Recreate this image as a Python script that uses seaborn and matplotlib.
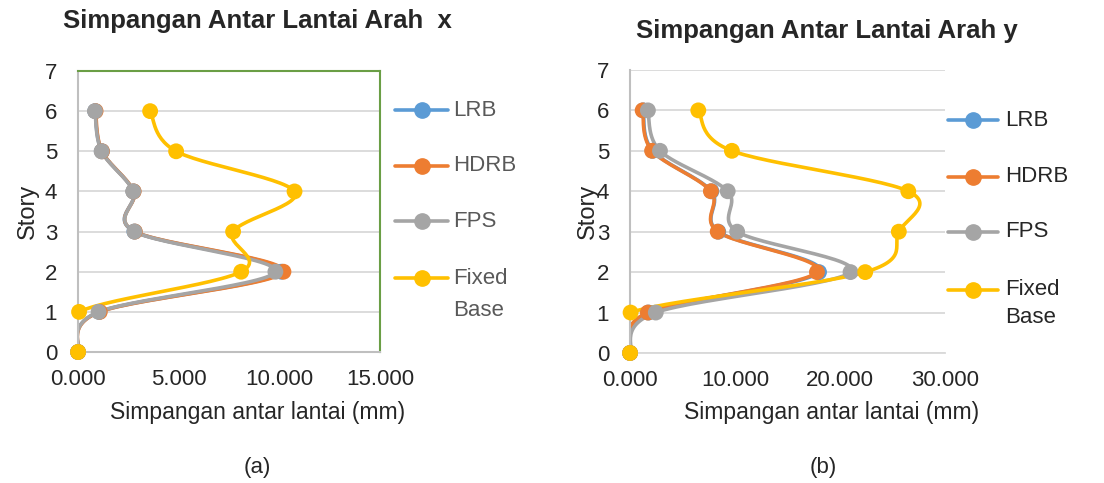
import numpy as np
import pandas as pd
import seaborn as sns
import matplotlib.pyplot as plt

sns.set_style('white')
plt.rcParams['font.family'] = ['Liberation Sans', 'DejaVu Sans']

story = [0, 1, 2, 3, 4, 5, 6]
series = ['LRB', 'HDRB', 'FPS', 'Fixed Base']
leg_labels = ['LRB', 'HDRB', 'FPS', 'Fixed', 'Base']
colors = ['#5B9BD5', '#ED7D31', '#A5A5A5', '#FFC000']

# arah x
x_lrb = [0.0, 1.05, 10.10, 2.80, 2.75, 1.18, 0.85]
x_hdrb = [0.0, 1.08, 10.20, 2.82, 2.76, 1.19, 0.87]
x_fps = [0.0, 1.02, 9.80, 2.80, 2.74, 1.17, 0.84]
x_fixed = [0.0, 0.05, 8.10, 7.70, 10.75, 4.87, 3.58]

# arah y
y_lrb = [0.0, 1.75, 18.00, 8.40, 7.75, 2.15, 1.25]
y_hdrb = [0.0, 1.70, 17.80, 8.35, 7.70, 2.10, 1.20]
y_fps = [0.0, 2.45, 21.00, 10.20, 9.30, 2.85, 1.70]
y_fixed = [0.0, 0.05, 22.40, 25.60, 26.50, 9.70, 6.50]


def smooth(xs, ys, n=30):
    # excel-like smoothed line (catmull-rom, bezier segments)
    p = np.column_stack([xs, ys]).astype(float)
    p = np.vstack([p[0], p, p[-1]])
    out = []
    for i in range(1, len(p) - 2):
        p0, p1, p2, p3 = p[i - 1], p[i], p[i + 1], p[i + 2]
        c1 = p1 + (p2 - p0) / 6
        c2 = p2 - (p3 - p1) / 6
        t = np.linspace(0, 1, n)[:, None]
        seg = ((1 - t) ** 3 * p1 + 3 * (1 - t) ** 2 * t * c1
               + 3 * (1 - t) * t ** 2 * c2 + t ** 3 * p2)
        out.append(seg)
    out = np.vstack(out)
    return out[:, 0], out[:, 1]


def legend(ax, xs, ys, tcolor):
    # excel style legend, handle aligned to first line of text
    x0, x1, xm, xt = xs
    for c, y in zip(colors, ys[:4]):
        ax.plot([x0, x1], [y, y], transform=ax.transAxes, color=c, lw=2.6,
                clip_on=False)
        ax.plot([xm], [y], transform=ax.transAxes, color=c, marker='o', ms=11,
                clip_on=False)
    for lab, y in zip(leg_labels, ys):
        ax.text(xt, y, lab, transform=ax.transAxes, fontsize=16, color=tcolor,
                ha='left', va='center')


def draw(ax, data, xmax, xstep):
    for name, vals, c in zip(series, data, colors):
        sx, sy = smooth(vals, story)
        df_line = pd.DataFrame({'x': sx, 'y': sy})
        sns.lineplot(data=df_line, x='x', y='y', sort=False, ax=ax,
                     color=c, lw=2.6, estimator=None)
        df_pts = pd.DataFrame({'x': vals, 'y': story})
        sns.scatterplot(data=df_pts, x='x', y='y', ax=ax, color=c,
                        s=130, edgecolor='none', zorder=5, clip_on=False)
    ax.set_xlim(0, xmax)
    ax.set_ylim(0, 7)
    ticks = np.arange(0, xmax + 0.1, xstep)
    ax.set_xticks(ticks)
    ax.set_xticklabels(['{:.3f}'.format(v) for v in ticks])
    ax.set_yticks(range(8))
    ax.yaxis.grid(True, color='#D9D9D9', lw=1.3)
    ax.xaxis.grid(False)
    ax.tick_params(axis='both', labelsize=16, length=0)
    ax.tick_params(axis='x', pad=12)
    ax.tick_params(axis='y', pad=15)
    ax.set_xlabel('Simpangan antar lantai (mm)', fontsize=16.5)
    ax.set_ylabel('Story', fontsize=17)
    for sp in ax.spines.values():
        sp.set_visible(False)
    ax.spines['left'].set_visible(True)
    ax.spines['left'].set_color('#BFBFBF')
    ax.spines['left'].set_linewidth(1.5)


fig = plt.figure(figsize=(11.04, 4.83), dpi=100)
ax1 = fig.add_axes([0.0707, 0.2712, 0.2736, 0.5818])
ax2 = fig.add_axes([0.5707, 0.2692, 0.2853, 0.5860])

draw(ax1, [x_lrb, x_hdrb, x_fps, x_fixed], 15, 5)
draw(ax2, [y_lrb, y_hdrb, y_fps, y_fixed], 30, 10)
ax1.yaxis.set_label_coords(-0.128, 0.5)
ax2.yaxis.set_label_coords(-0.10, 0.5)
ax1.xaxis.set_label_coords(0.593, -0.175)
ax2.xaxis.set_label_coords(0.641, -0.17)

legend(ax1, (1.050, 1.225, 1.139, 1.242),
       (0.861, 0.662, 0.466, 0.263, 0.146), '#595959')
legend(ax2, (1.0095, 1.168, 1.089, 1.190),
       (0.823, 0.622, 0.428, 0.223, 0.124), '#262626')

# frame of left plot
ax1.spines['top'].set_visible(True)
ax1.spines['right'].set_visible(True)
ax1.spines['top'].set_color('#6A9E45')
ax1.spines['right'].set_color('#6A9E45')
ax1.spines['bottom'].set_visible(True)
ax1.spines['bottom'].set_color('#BFBFBF')
for s in ['top', 'right', 'bottom']:
    ax1.spines[s].set_linewidth(1.5)
ax2.spines['bottom'].set_visible(True)
ax2.spines['bottom'].set_color('#D9D9D9')
ax2.spines['bottom'].set_linewidth(1.3)

fig.text(0.233, 0.956, 'Simpangan Antar Lantai Arah  x', ha='center', va='center',
         fontsize=18.5, fontweight='bold')
fig.text(0.749, 0.935, 'Simpangan Antar Lantai Arah y', ha='center', va='center',
         fontsize=18.5, fontweight='bold')
fig.text(0.233, 0.033, '(a)', ha='center', va='center', fontsize=16)
fig.text(0.746, 0.033, '(b)', ha='center', va='center', fontsize=16)

fig.savefig('out.png', dpi=100)
